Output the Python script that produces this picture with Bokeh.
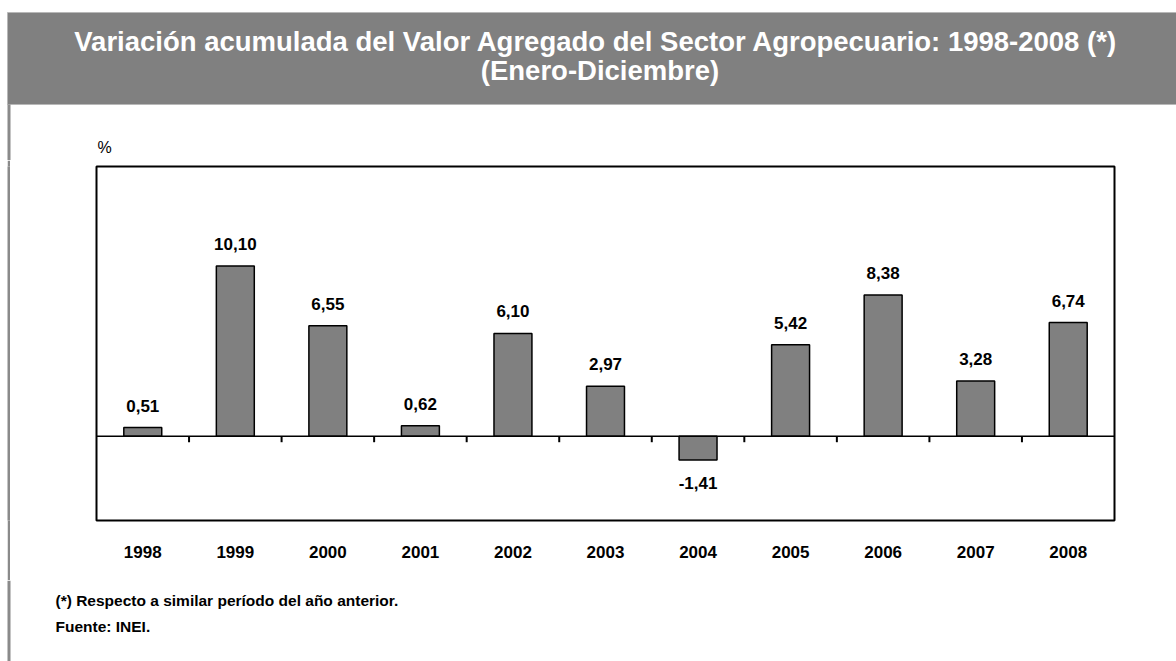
from bokeh.plotting import figure
from bokeh.layouts import column, row
from bokeh.models import FactorRange, Range1d, Span, ColumnDataSource, Spacer
from bokeh.core.properties import value
from bokeh.embed import file_html
from bokeh.resources import INLINE

# ---- data ----
years = ["1998", "1999", "2000", "2001", "2002", "2003", "2004", "2005", "2006", "2007", "2008"]
values = [0.51, 10.10, 6.55, 0.62, 6.10, 2.97, -1.41, 5.42, 8.38, 3.28, 6.74]
title_lines = ["Variación acumulada del  Valor Agregado del Sector Agropecuario: 1998-2008 (*)",
               "(Enero-Diciembre)"]
notes = ["(*) Respecto a similar período del año anterior.", "Fuente: INEI."]
y_unit = "%"

# ---- layout constants (pixels) ----
W = 1176
HEAD_H = 160
STRIP_W = 12
MAIN_W = W - STRIP_W
MAIN_H = 420
FOOT_H = 81
GRAY = "#808080"
EDGE = "#8a8a8a"
SANS = "Liberation Sans"


def pixel_fig(w, h, fill="white"):
    f = figure(width=w, height=h, x_range=Range1d(0, w), y_range=Range1d(h, 0),
               output_backend="svg", toolbar_location=None,
               x_axis_location=None, y_axis_location=None,
               min_border=0, min_border_left=0, min_border_right=0,
               min_border_top=0, min_border_bottom=0)
    f.outline_line_color = None
    f.grid.grid_line_color = None
    f.background_fill_color = fill
    f.border_fill_color = fill
    return f


# ---- header ----
head = pixel_fig(W, HEAD_H)
head.quad(left=[7], right=[W], top=[12], bottom=[104], fill_color=GRAY,
          line_color="#b8b8b8", line_width=1)
head.quad(left=[7], right=[10], top=[104], bottom=[HEAD_H], fill_color=EDGE, line_color=None)
head.text(x=[599.5, 599.5], y=[40.5, 69.5], text=title_lines, text_align="center",
          text_baseline="middle", text_color="white", text_font=value(SANS),
          text_font_style="bold", text_font_size="27.5px")
head.text(x=[97], y=[147], text=[y_unit], text_align="left", text_baseline="middle",
          text_color="black", text_font=value(SANS), text_font_size="16px")

# ---- left edge line beside the chart (a 3px grey figure between white spacers) ----
strip = pixel_fig(3, MAIN_H, fill=EDGE)

# ---- main chart ----
FL, FR, FT, FB = 84, 1102, 6, 360
Y0, Y1 = -5.0, 16.0
p = figure(width=MAIN_W, height=MAIN_H,
           x_range=FactorRange(*years, range_padding=0),
           y_range=Range1d(Y0, Y1),
           output_backend="svg", toolbar_location=None, y_axis_location=None,
           min_border_left=FL, min_border_right=MAIN_W - FR,
           min_border_top=FT, min_border_bottom=MAIN_H - FB)
p.background_fill_color = "white"
p.border_fill_color = "white"
p.outline_line_color = "black"
p.outline_line_width = 2
p.outline_line_alpha = 1
p.grid.grid_line_color = None

p.add_layout(Span(location=0, dimension="width", line_color="black", line_width=1.5))
nx = len(years)
tick_len = 6 / (FB - FT) * (Y1 - Y0)
bounds = list(range(1, nx))
p.segment(x0=bounds, y0=[0] * len(bounds), x1=bounds, y1=[-tick_len] * len(bounds),
          line_color="black", line_width=2)

src = ColumnDataSource(dict(year=years, val=values))
p.vbar(x="year", top="val", bottom=0, width=0.41, source=src,
       fill_color=GRAY, line_color="black", line_width=1.5)

fmt = lambda v: f"{v:.2f}".replace(".", ",")
pos = [(y, v) for y, v in zip(years, values) if v >= 0]
neg = [(y, v) for y, v in zip(years, values) if v < 0]
p.text(x=[a for a, _ in pos], y=[b for _, b in pos], text=[fmt(b) for _, b in pos],
       y_offset=-22, text_align="center", text_baseline="middle",
       text_font=value(SANS), text_font_style="bold", text_font_size="17px", text_color="black")
p.text(x=[a for a, _ in neg], y=[b for _, b in neg], text=[fmt(b) for _, b in neg],
       y_offset=23, text_align="center", text_baseline="middle",
       text_font=value(SANS), text_font_style="bold", text_font_size="17px", text_color="black")

ax = p.xaxis[0]
ax.axis_line_color = None
ax.major_tick_line_color = None
ax.minor_tick_line_color = None
ax.major_tick_out = 0
ax.major_tick_in = 0
ax.major_label_standoff = 25
ax.major_label_text_font = SANS
ax.major_label_text_font_style = "bold"
ax.major_label_text_font_size = "17px"
ax.major_label_text_color = "black"

# ---- footer (own edge segment + notes) ----
foot = pixel_fig(W, FOOT_H)
foot.quad(left=[7], right=[10], top=[0], bottom=[FOOT_H], fill_color=EDGE, line_color=None)
foot.text(x=[55, 55], y=[20, 46], text=notes, text_align="left", text_baseline="middle",
          text_color="black", text_font=value(SANS), text_font_style="bold",
          text_font_size="15.5px")

middle = row(Spacer(width=7, height=MAIN_H), strip, Spacer(width=2, height=MAIN_H), p, spacing=0)
layout = column(head, middle, foot, spacing=0)
open("out.html", "w").write(file_html(layout, INLINE))
